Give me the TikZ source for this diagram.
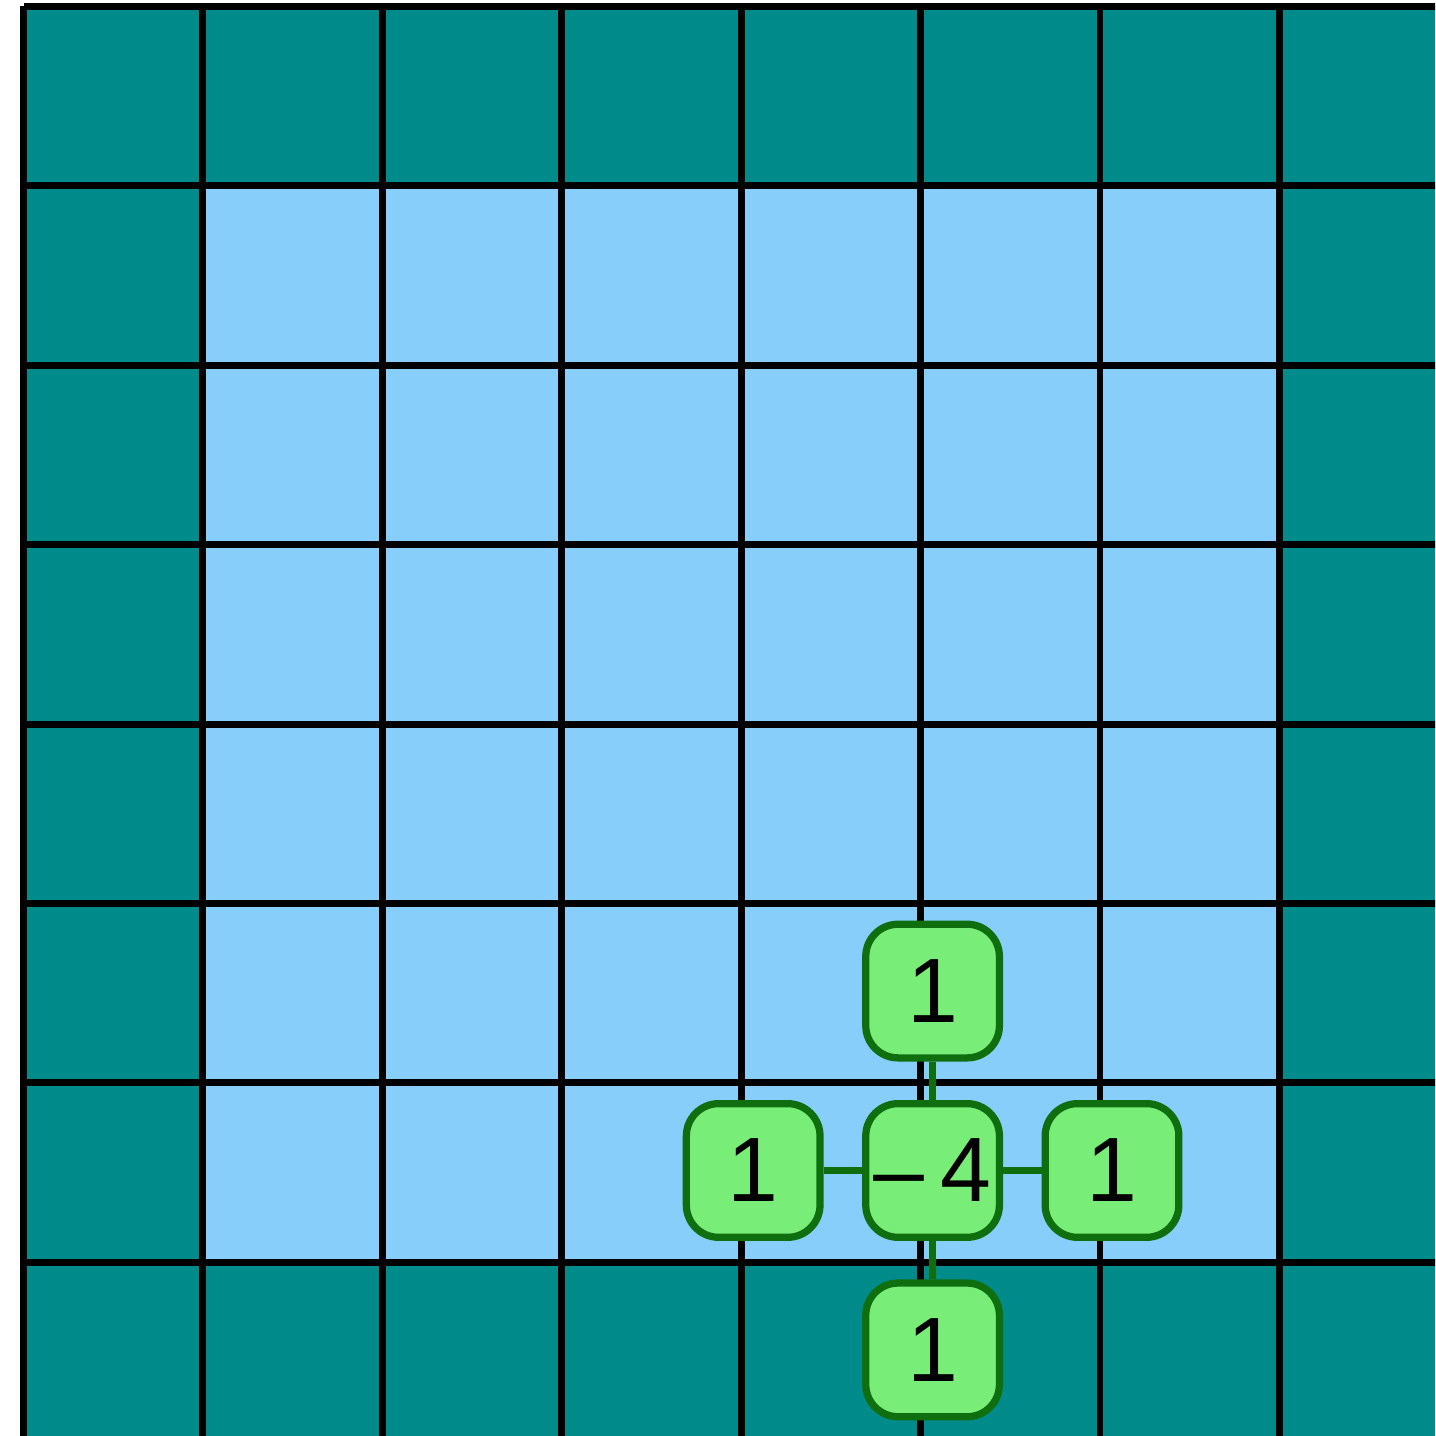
\documentclass[tikz,border=0pt]{standalone}
\usepackage{fontspec}
\setmainfont{Liberation Sans}
\usepackage{xcolor}
\usepackage{tikz}
\usetikzlibrary{positioning}

\definecolor{edgeteal}{HTML}{008B8B}
\definecolor{innerblue}{HTML}{87CEFA}
\definecolor{kernelfill}{HTML}{78EE78}
\definecolor{kerneldraw}{HTML}{0F6F0F}

\begin{document}
\begin{tikzpicture}[
    node distance=1cm and 1cm,
    on grid,
    gridline/.style={line width=1.1pt, black},
    kernel/.style={rectangle, draw=kerneldraw, fill=kernelfill, line width=1.15pt, rounded corners=0.18cm, minimum width=0.745cm, minimum height=0.745cm, inner sep=0pt, font=\fontsize{14.5}{16}\selectfont},
    link/.style={draw=kerneldraw, line width=1pt}
]
\useasboundingbox (-0.131,0.036) rectangle (7.868,-7.968);
\clip (-0.131,0.036) rectangle (7.868,-7.968);

% padded border and interior
\fill[edgeteal] (0,0) rectangle (8,-8);
\fill[innerblue] (1,-1) rectangle (7,-7);
\draw[gridline] (0,-8) grid (8,0);

% laplacian stencil
\node[kernel] (mid) at (5.067,-6.488) {–\hspace{0.09cm}4};
\node[kernel, above=of mid] (up) {1};
\node[kernel, below=of mid] (down) {1};
\node[kernel, left=of mid] (lt) {1};
\node[kernel, right=of mid] (rt) {1};

\draw[link] (up) -- (mid);
\draw[link] (mid) -- (down);
\draw[link] (lt) -- (mid);
\draw[link] (mid) -- (rt);
\end{tikzpicture}
\end{document}
